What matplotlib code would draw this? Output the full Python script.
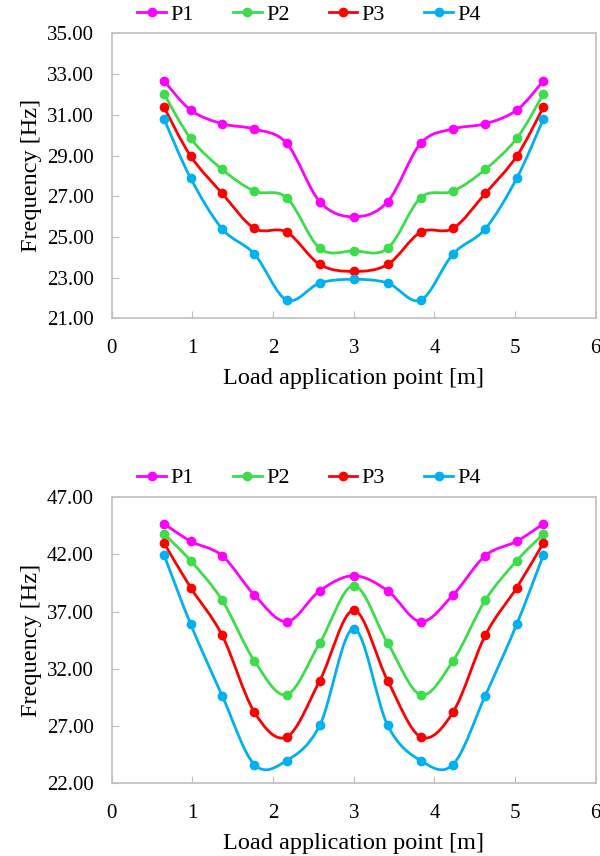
import numpy as np
import matplotlib.pyplot as plt
from matplotlib.path import Path
from matplotlib.patches import PathPatch
from matplotlib.lines import Line2D

plt.rcParams['font.family'] = ['Liberation Serif', 'DejaVu Serif']

# load positions [m]
x = [0.65, 0.98, 1.37, 1.77, 2.17, 2.58, 3.0, 3.42, 3.83, 4.23, 4.63, 5.02, 5.35]

# first case
top_P1 = [32.67, 31.23, 30.56, 30.30, 29.60, 26.73, 25.99, 26.73, 29.60, 30.31, 30.56, 31.23, 32.67]
top_P2 = [32.02, 29.84, 28.32, 27.25, 26.93, 24.44, 24.32, 24.44, 26.93, 27.25, 28.32, 29.84, 32.02]
top_P3 = [31.37, 28.97, 27.14, 25.42, 25.24, 23.65, 23.31, 23.65, 25.24, 25.42, 27.14, 28.97, 31.37]
top_P4 = [30.79, 27.88, 25.40, 24.16, 21.90, 22.74, 22.92, 22.74, 21.90, 24.16, 25.40, 27.88, 30.79]

# second case
bot_P1 = [44.69, 43.15, 41.89, 38.45, 36.12, 38.83, 40.14, 38.83, 36.12, 38.45, 41.89, 43.15, 44.69]
bot_P2 = [43.79, 41.45, 37.99, 32.68, 29.73, 34.25, 39.27, 34.25, 29.73, 32.68, 37.99, 41.45, 43.79]
bot_P3 = [43.00, 39.09, 34.92, 28.19, 26.03, 30.96, 37.11, 30.96, 26.03, 28.19, 34.92, 39.09, 43.00]
bot_P4 = [41.95, 35.89, 29.64, 23.61, 23.96, 27.05, 35.51, 27.05, 23.96, 23.61, 29.64, 35.89, 41.95]

names = ['P1', 'P2', 'P3', 'P4']
colors = ['#FF00FF', '#3DDC4A', '#FF0000', '#00B0F0']


def smooth_path(xs, ys):
    # cubic Bezier through the points, Catmull-Rom style tangents
    p = np.column_stack([xs, ys]).astype(float)
    n = len(p)
    verts = [p[0]]
    codes = [Path.MOVETO]
    for i in range(n - 1):
        p0 = p[i - 1] if i > 0 else p[i]
        p3 = p[i + 2] if i + 2 < n else p[i + 1]
        c1 = p[i] + (p[i + 1] - p0) / 6
        c2 = p[i + 1] - (p3 - p[i]) / 6
        verts += [c1, c2, p[i + 1]]
        codes += [Path.CURVE4] * 3
    return Path(verts, codes)


def draw(ax, series, ylim, yticks):
    for ys, c in zip(series, colors):
        ax.add_patch(PathPatch(smooth_path(x, ys), facecolor='none',
                               edgecolor=c, lw=2.0, zorder=2))
        ax.plot(x, ys, 'o', color=c, ms=6, zorder=3)
    ax.set_xlim(0, 6)
    ax.set_ylim(*ylim)
    ax.set_yticks(yticks)
    ax.set_yticklabels(['%.2f' % v for v in yticks])
    ax.set_xticks(range(7))
    for s in ax.spines.values():
        s.set_color('#BFBFBF')
        s.set_linewidth(1.2)
    ax.tick_params(axis='x', direction='in', length=5, color='#BFBFBF',
                   labelsize=15, pad=15)
    ax.tick_params(axis='y', direction='in', length=5, color='#BFBFBF',
                   labelsize=15, pad=13)
    ax.set_xlabel('Load application point [m]', fontsize=17.5, labelpad=7)
    ax.set_ylabel('Frequency [Hz]', fontsize=17.5, labelpad=3.5)


fig = plt.figure(figsize=(6, 8.56), dpi=100)
ax1 = fig.add_axes([0.186, 0.628, 0.807, 0.333])
ax2 = fig.add_axes([0.186, 0.0853, 0.807, 0.3337])

draw(ax1, [top_P1, top_P2, top_P3, top_P4], (21, 35), np.arange(21, 36, 2))
draw(ax2, [bot_P1, bot_P2, bot_P3, bot_P4], (22, 47), np.arange(22, 48, 5))

handles = [Line2D([], [], color=c, lw=2.0, marker='o', ms=6) for c in colors]
for ax, yl in [(ax1, 1 - 15 / 856), (ax2, 1 - 478 / 856)]:
    fig.legend(handles, names, loc='center', bbox_to_anchor=(0.515, yl),
               ncol=4, frameon=False, fontsize=16, handlelength=1.3,
               handletextpad=0.2, columnspacing=1.75)

fig.savefig('out.png', dpi=100)
